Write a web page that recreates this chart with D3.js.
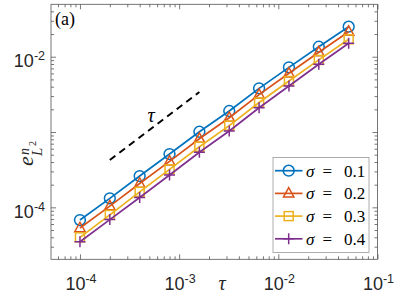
<!DOCTYPE html>
<html>
<head>
<meta charset="utf-8">
<script src="https://cdn.jsdelivr.net/npm/d3@7"></script>
<style>
  body { margin: 0; background: #fff; }
  svg { display: block; }
</style>
</head>
<body>
<div id="chart"></div>
<script>
// time steps and errors for each sigma
const tau = [1e-4, 2e-4, 4e-4, 8e-4, 1.6e-3, 3.2e-3, 6.4e-3, 1.28e-2, 2.56e-2, 5.12e-2];
const err01 = [6.78e-5, 1.317e-4, 2.603e-4, 5.10e-4, 1.009e-3, 1.901e-3, 3.805e-3, 7.23e-3, 1.357e-2, 2.503e-2];
const err02 = [5.31e-5, 1.037e-4, 2.07e-4, 4.08e-4, 8.15e-4, 1.548e-3, 3.14e-3, 6.02e-3, 1.148e-2, 2.148e-2];
const err03 = [4.00e-5, 7.95e-5, 1.606e-4, 3.196e-4, 6.38e-4, 1.216e-3, 2.465e-3, 4.76e-3, 9.07e-3, 1.702e-2];
const err04 = [3.49e-5, 6.87e-5, 1.349e-4, 2.685e-4, 5.39e-4, 1.031e-3, 2.102e-3, 4.08e-3, 7.93e-3, 1.507e-2];
const sigmaLabels = ["0.1", "0.2", "0.3", "0.4"];
// reference slope line (order tau)
const refX = [2e-4, 1.6e-3];
const refY = [4.25e-4, 3.4e-3];
const xTickExp = [-4, -3, -2, -1];
const yTickExp = [-4, -2];

const series = [
  { label: sigmaLabels[0], values: err01, color: "#0072BD", marker: "circle" },
  { label: sigmaLabels[1], values: err02, color: "#D95319", marker: "triangle" },
  { label: sigmaLabels[2], values: err03, color: "#EDB120", marker: "square" },
  { label: sigmaLabels[3], values: err04, color: "#7E2F8E", marker: "plus" }
];

const width = 395, height = 296;
const box = { left: 51, right: 377.5, top: 4.3, bottom: 259.3 };

const svg = d3.select("#chart").append("svg")
  .attr("width", width)
  .attr("height", height);

const x = d3.scaleLog()
  .domain([Math.pow(10, -4.292), 0.1])
  .range([box.left, box.right]);

const y = d3.scaleLog()
  .domain([Math.pow(10, -4.69), Math.pow(10, -1.304)])
  .range([box.bottom, box.top]);

// major / minor tick positions for a log domain
function logTicks(scale) {
  const [a, b] = scale.domain();
  const major = [], minor = [];
  for (let e = Math.floor(Math.log10(a)); e <= Math.ceil(Math.log10(b)); e++) {
    for (let m = 1; m <= 9; m++) {
      const v = m * Math.pow(10, e);
      if (v < a * 0.9999 || v > b * 1.0001) continue;
      (m === 1 ? major : minor).push(v);
    }
  }
  return { major, minor };
}

const xt = logTicks(x), yt = logTicks(y);
const axisColor = "#555";

// white plot background
svg.append("rect")
  .attr("x", box.left).attr("y", box.top)
  .attr("width", box.right - box.left).attr("height", box.bottom - box.top)
  .attr("fill", "#fff");

// ticks on all four sides, pointing inward
function drawTicks(g, axisFn, scale, ticks, size) {
  g.call(axisFn(scale).tickValues(ticks).tickSizeInner(size).tickSizeOuter(0).tickFormat(""))
    .call(s => s.select(".domain").remove())
    .call(s => s.selectAll("line").attr("stroke", axisColor).attr("stroke-width", 0.8));
}
[[xt.major, 5], [xt.minor, 3]].forEach(([t, s]) => {
  drawTicks(svg.append("g").attr("transform", `translate(0,${box.bottom})`), d3.axisBottom, x, t, -s);
  drawTicks(svg.append("g").attr("transform", `translate(0,${box.top})`), d3.axisTop, x, t, -s);
});
[[yt.major, 5], [yt.minor, 3]].forEach(([t, s]) => {
  drawTicks(svg.append("g").attr("transform", `translate(${box.left},0)`), d3.axisLeft, y, t, -s);
  drawTicks(svg.append("g").attr("transform", `translate(${box.right},0)`), d3.axisRight, y, t, -s);
});

// frame
svg.append("rect")
  .attr("x", box.left).attr("y", box.top)
  .attr("width", box.right - box.left).attr("height", box.bottom - box.top)
  .attr("fill", "none")
  .attr("stroke", axisColor)
  .attr("stroke-width", 0.8);

// tick labels 10^k
const labelFont = "'Liberation Sans', Arial, sans-serif";
function powLabel(sel, e) {
  sel.append("tspan").text("10");
  sel.append("tspan").attr("font-size", 12.5).attr("dy", -7).text(String(e));
}
xTickExp.forEach(e => {
  svg.append("text")
    .attr("x", x(Math.pow(10, e)) + 1)
    .attr("y", 290)
    .attr("text-anchor", "middle")
    .attr("font-family", labelFont)
    .attr("font-size", 18)
    .attr("fill", "#262626")
    .call(powLabel, e);
});
yTickExp.forEach(e => {
  svg.append("text")
    .attr("x", 45)
    .attr("y", y(Math.pow(10, e)) + 10.5)
    .attr("text-anchor", "end")
    .attr("font-family", labelFont)
    .attr("font-size", 18)
    .attr("fill", "#262626")
    .call(powLabel, e);
});

const serif = "'Liberation Serif', 'Times New Roman', serif";

// axis labels
svg.append("text")
  .attr("x", 222).attr("y", 290)
  .attr("text-anchor", "middle")
  .attr("font-family", serif).attr("font-style", "italic")
  .attr("font-size", 20).attr("fill", "#262626")
  .text("τ");

const yl = svg.append("g").attr("transform", "translate(33,166) rotate(-90)")
  .attr("font-family", serif).attr("font-style", "italic").attr("fill", "#262626");
yl.append("text").attr("x", 0).attr("y", 0).attr("font-size", 22).text("e");
yl.append("text").attr("x", 11).attr("y", -4).attr("font-size", 14).text("n");
yl.append("text").attr("x", 10).attr("y", 9).attr("font-size", 15).text("L");
yl.append("text").attr("x", 20).attr("y", 3).attr("font-size", 10).attr("font-style", "normal").text("2");

// panel tag
svg.append("text")
  .attr("x", 55).attr("y", 25)
  .attr("font-family", serif).attr("font-size", 18).attr("fill", "#000")
  .text("(a)");

// reference slope
svg.append("line")
  .attr("x1", x(refX[0])).attr("y1", y(refY[0]))
  .attr("x2", x(refX[1])).attr("y2", y(refY[1]))
  .attr("stroke", "#000").attr("stroke-width", 2)
  .attr("stroke-dasharray", "7,5");
svg.append("text")
  .attr("x", 151).attr("y", 122)
  .attr("text-anchor", "middle")
  .attr("font-family", serif).attr("font-style", "italic")
  .attr("font-size", 20).attr("fill", "#000")
  .text("τ");

// marker drawing
function drawMarker(g, type, cx, cy, color) {
  const m = g.append("g").attr("transform", `translate(${cx},${cy})`)
    .attr("fill", "none").attr("stroke", color).attr("stroke-width", 1.5);
  if (type === "circle") m.append("circle").attr("r", 5.4);
  else if (type === "triangle") m.append("path").attr("d", "M0,-5.8L5.2,3.6L-5.2,3.6Z");
  else if (type === "square") m.append("rect").attr("x", -4.5).attr("y", -4.5).attr("width", 9).attr("height", 9);
  else if (type === "plus") m.append("path").attr("d", "M-5.5,0H5.5M0,-5.5V5.5");
}

const line = d3.line()
  .x((d, i) => x(tau[i]))
  .y(d => y(d));

series.forEach(s => {
  const g = svg.append("g");
  g.append("path")
    .datum(s.values)
    .attr("fill", "none")
    .attr("stroke", s.color)
    .attr("stroke-width", 1.7)
    .attr("d", line);
  s.values.forEach((v, i) => drawMarker(g, s.marker, x(tau[i]), y(v), s.color));
});

// legend
const lg = svg.append("g");
lg.append("rect")
  .attr("x", 273).attr("y", 157.5)
  .attr("width", 96).attr("height", 95)
  .attr("fill", "#fff")
  .attr("stroke", "#999").attr("stroke-width", 0.8);
series.forEach((s, i) => {
  const yy = 170.7 + i * 22.7;
  lg.append("line")
    .attr("x1", 275).attr("x2", 302.5)
    .attr("y1", yy).attr("y2", yy)
    .attr("stroke", s.color).attr("stroke-width", 1.7);
  drawMarker(lg, s.marker, 288.7, yy, s.color);
  const t = lg.append("text")
    .attr("y", yy + 6)
    .attr("font-family", serif).attr("font-size", 17).attr("fill", "#000");
  t.append("tspan").attr("x", 306).attr("font-style", "italic").text("σ");
  t.append("tspan").attr("x", 322.5).text("=");
  t.append("tspan").attr("x", 344).text(s.label);
});
</script>
</body>
</html>
